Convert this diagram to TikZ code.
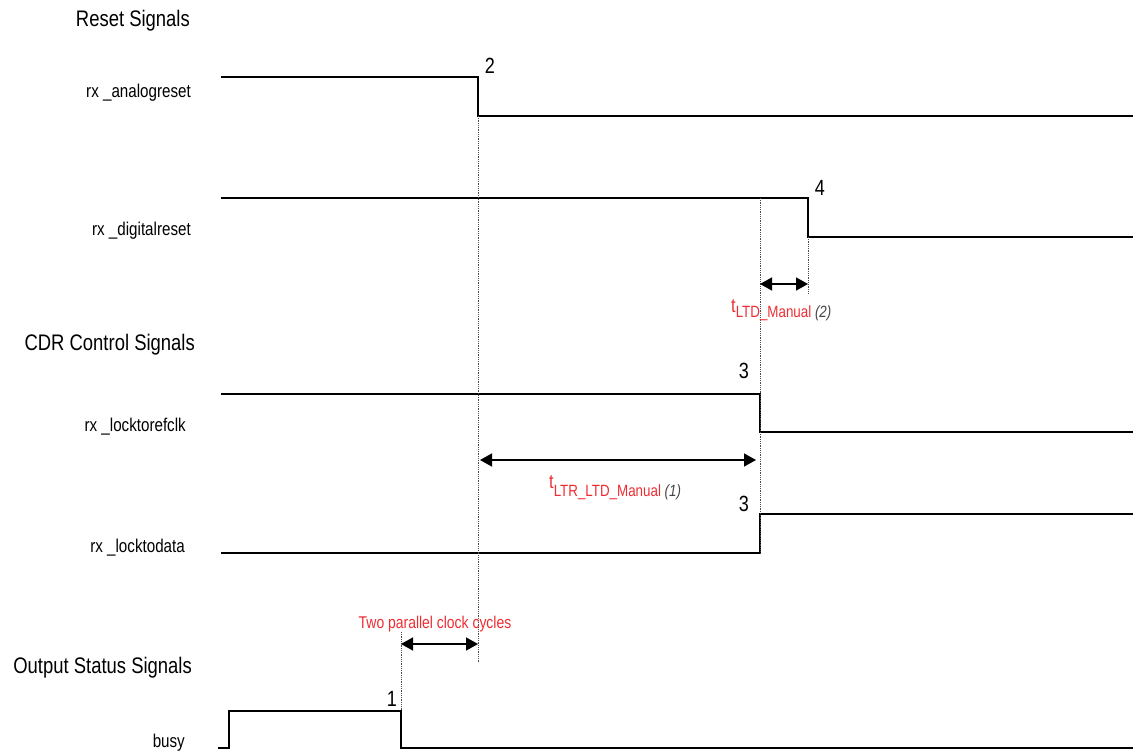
\documentclass[tikz,border=0pt]{standalone}
\usepackage{fontspec}
\setmainfont{Liberation Sans}[FakeStretch=0.82]
\usetikzlibrary{arrows.meta}
\definecolor{annred}{RGB}{238,45,50}
\definecolor{notegray}{RGB}{70,70,70}
\tikzset{
  wave/.style={line width=1.3pt, line join=miter},
  guide/.style={densely dotted, line width=0.8pt, black!70},
  span/.style={{Triangle[length=12pt,width=13pt]}-{Triangle[length=12pt,width=13pt]}, line width=1.5pt},
  group/.style={anchor=base east, inner sep=0pt, font=\fontsize{22.5}{24}\selectfont},
  signame/.style={anchor=base east, inner sep=0pt, font=\fontsize{18.5}{20}\selectfont},
  event/.style={anchor=base, inner sep=0pt, font=\fontsize{22}{24}\selectfont},
  timing/.style={anchor=base west, inner sep=0pt, text=annred}
}
% t with subscript and a grey note
\newcommand{\tlabel}[3]{{\fontsize{20}{20}\selectfont t}\raisebox{-#1pt}{\fontsize{16.3}{17}\selectfont #2\ {\color{notegray}\itshape #3}}}
\begin{document}
\begin{tikzpicture}[x=1pt,y=-1pt]
  \useasboundingbox (0,0) rectangle (1133,753);
  % group titles and signal names
  \node[group] (rst) at (190,26) {Reset Signals};
  \node[group] (cdr) at (195,350) {CDR Control Signals};
  \node[group] (out) at (192,673) {Output Status Signals};
  \node[signame] (ana) at (191,97) {rx \_analogreset};
  \node[signame] (dig) at (191,235) {rx \_digitalreset};
  \node[signame] (ref) at (186,431) {rx \_locktorefclk};
  \node[signame] (dat) at (185,552) {rx \_locktodata};
  \node[signame] (bsy) at (185,747) {busy};
  % edges
  \coordinate (anaH) at (478,77);  \coordinate (anaL) at (478,116);
  \coordinate (digH) at (808,198); \coordinate (digL) at (808,237);
  \coordinate (refH) at (760,394); \coordinate (refL) at (760,432);
  \coordinate (datL) at (760,553); \coordinate (datH) at (760,514);
  \coordinate (bsyH) at (401,711); \coordinate (bsyL) at (401,748);
  % waveforms
  \draw[wave] (221,77) -- (anaH) -- (anaL) -- (1133,116);
  \draw[wave] (221,198) -- (digH) -- (digL) -- (1133,237);
  \draw[wave] (221,394) -- (refH) -- (refL) -- (1133,432);
  \draw[wave] (221,553) -- (datL) -- (datH) -- (1133,514);
  \draw[wave] (218,748) -- (229,748) -- (229,711) -- (bsyH) -- (bsyL) -- (1133,748);
  % event numbers
  \node[event] (e2) at (490,73) {2};
  \node[event] (e4) at (820,195) {4};
  \node[event] (e3a) at (744,378) {3};
  \node[event] (e3b) at (744,511) {3};
  \node[event] (e1) at (392,706) {1};
  % guides
  \coordinate (g1) at (478,663);
  \coordinate (g2) at (760,198);
  \coordinate (g3) at (808,293);
  \coordinate (g4) at (401,632);
  \draw[guide] (anaL) -- (g1);
  \draw[guide] (g2) -- (datL);
  \draw[guide] (digL) -- (g3);
  \draw[guide] (g4) -- (bsyH);
  % spans
  \coordinate (ltdA) at (760,284); \coordinate (ltdB) at (808,284);
  \coordinate (ltrA) at (480,460); \coordinate (ltrB) at (756,460);
  \coordinate (clkA) at (401,644); \coordinate (clkB) at (478,644);
  \draw[span] (ltdA) -- (ltdB);
  \draw[span] (ltrA) -- (ltrB);
  \draw[span] (clkA) -- (clkB);
  \node[timing] (tltd) at (731,312) {\tlabel{5}{LTD\_Manual}{(2)}};
  \node[timing] (tltr) at (549,488) {\tlabel{8}{LTR\_LTD\_Manual}{(1)}};
  \node[timing, anchor=base, font=\fontsize{17}{18}\selectfont] (clk) at (435,628) {Two parallel clock cycles};
\end{tikzpicture}
\end{document}
